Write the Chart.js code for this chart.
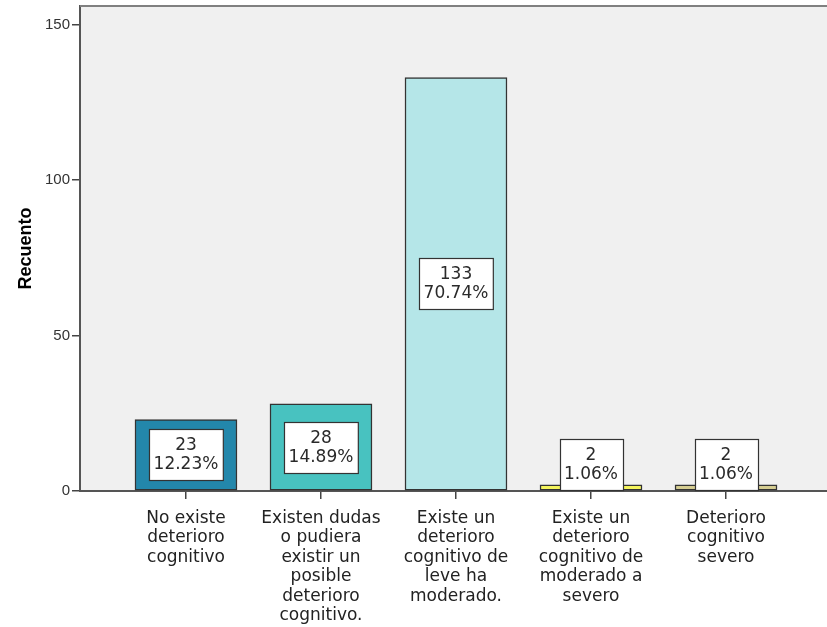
<!DOCTYPE html>
<html>
<head>
<meta charset="utf-8">
<script src="https://cdn.jsdelivr.net/npm/chart.js@4.4.1/dist/chart.umd.min.js"></script>
<style>
  html, body { margin: 0; padding: 0; background: #fff; }
  #wrap { width: 827px; height: 627px; position: relative; }
</style>
</head>
<body>
<div id="wrap"><canvas id="chart" width="827" height="627"></canvas></div>
<script>
// categories (multi-line, as in the original axis)
const categories = [
  ["No existe", "deterioro", "cognitivo"],
  ["Existen dudas", "o pudiera", "existir un", "posible", "deterioro", "cognitivo."],
  ["Existe un", "deterioro", "cognitivo de", "leve ha", "moderado."],
  ["Existe un", "deterioro", "cognitivo de", "moderado a", "severo"],
  ["Deterioro", "cognitivo", "severo"]
];
const counts = [23, 28, 133, 2, 2];
const percents = ["12.23%", "14.89%", "70.74%", "1.06%", "1.06%"];
const barColors = ["#2387ab", "#48c2c0", "#b5e6e8", "#f4f45c", "#d5cd91"];
const yTicks = [0, 50, 100, 150];

// plot area background + top frame
const plotFrame = {
  id: 'plotFrame',
  beforeDraw(chart) {
    const { ctx, chartArea: a } = chart;
    ctx.save();
    ctx.fillStyle = '#f0f0f0';
    ctx.fillRect(a.left, a.top, a.right - a.left, a.bottom - a.top);
    ctx.restore();
  },
  afterDraw(chart) {
    const { ctx, chartArea: a } = chart;
    ctx.save();
    ctx.strokeStyle = '#808080';
    ctx.lineWidth = 2;
    ctx.beginPath();
    ctx.moveTo(a.left, a.top);
    ctx.lineTo(a.right, a.top);
    ctx.stroke();
    ctx.restore();
  }
};

// white boxes with count and percent inside each bar
const boxLabels = {
  id: 'boxLabels',
  afterDatasetsDraw(chart) {
    const ctx = chart.ctx;
    const meta = chart.getDatasetMeta(0);
    ctx.save();
    ctx.font = '17px "DejaVu Sans"';
    ctx.textAlign = 'center';
    ctx.textBaseline = 'middle';
    meta.data.forEach((bar, i) => {
      const l1 = String(counts[i]);
      const l2 = percents[i];
      const w = Math.max(ctx.measureText(l1).width, ctx.measureText(l2).width) + 9;
      const h = 51;
      const mid = (bar.y + bar.base) / 2;
      const cy = Math.min(mid, bar.base - h / 2);
      const x0 = Math.round(bar.x - w / 2) + 0.5;
      const y0 = Math.round(cy - h / 2) + 0.5;
      ctx.fillStyle = '#ffffff';
      ctx.fillRect(x0, y0, w, h);
      ctx.strokeStyle = '#333';
      ctx.lineWidth = 1.2;
      ctx.strokeRect(x0, y0, w, h);
      ctx.fillStyle = '#2a2a2a';
      ctx.fillText(l1, bar.x, cy - 9);
      ctx.fillText(l2, bar.x, cy + 10);
    });
    ctx.restore();
  }
};

const ctx = document.getElementById('chart').getContext('2d');
new Chart(ctx, {
  type: 'bar',
  data: {
    datasets: [{
      data: counts.map((v, i) => ({ x: i, y: v })),
      backgroundColor: barColors,
      borderColor: '#333',
      borderWidth: 1.5,
      borderSkipped: false,
      barThickness: 102
    }]
  },
  options: {
    responsive: false,
    animation: false,
    layout: { padding: { top: 6, right: 0, left: 0, bottom: 0 } },
    plugins: {
      legend: { display: false },
      tooltip: { enabled: false }
    },
    scales: {
      x: {
        type: 'linear',
        offset: false,
        min: -0.785,
        max: 4.748,
        afterBuildTicks: (scale) => {
          scale.ticks = categories.map((_, i) => ({ value: i }));
        },
        afterFit: (scale) => { scale.height = 136; },
        ticks: {
          autoSkip: false,
          maxRotation: 0,
          minRotation: 0,
          padding: 10,
          color: '#222',
          font: { family: '"DejaVu Sans"', size: 17, lineHeight: 1.14 },
          callback: (v) => categories[v]
        },
        grid: {
          offset: false,
          drawOnChartArea: false,
          drawTicks: true,
          tickLength: 8,
          color: '#444',
          lineWidth: 1.5
        },
        border: { color: '#555', width: 2 }
      },
      y: {
        min: 0,
        max: 156,
        afterBuildTicks: (scale) => {
          scale.ticks = yTicks.map(v => ({ value: v }));
        },
        afterFit: (scale) => {
          scale.width = 80;
          scale.paddingTop = 0;
          scale.paddingBottom = 0;
        },
        ticks: {
          padding: 2,
          color: '#333',
          font: { family: '"Liberation Sans"', size: 15 }
        },
        grid: {
          drawOnChartArea: false,
          drawTicks: true,
          tickLength: 8,
          color: '#444',
          lineWidth: 1.5
        },
        border: { color: '#555', width: 2 },
        title: {
          display: true,
          text: 'Recuento',
          color: '#000',
          padding: { top: 15, bottom: 0 },
          font: { family: '"Liberation Sans"', size: 18, weight: 'bold' }
        }
      }
    }
  },
  plugins: [plotFrame, boxLabels]
});
</script>
</body>
</html>
